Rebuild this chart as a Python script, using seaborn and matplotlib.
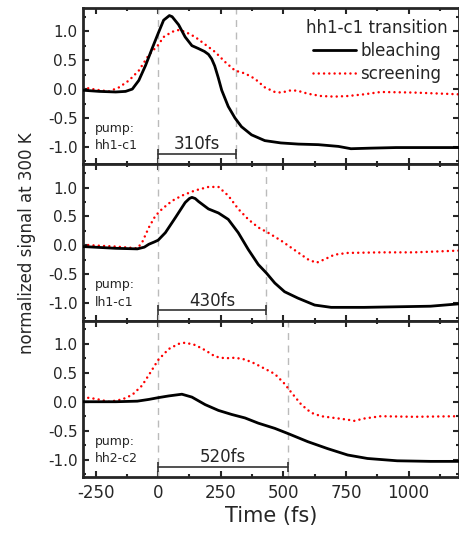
import numpy as np
import pandas as pd
import matplotlib
matplotlib.use("Agg")
import matplotlib.pyplot as plt
from matplotlib.ticker import MultipleLocator, FormatStrFormatter
import seaborn as sns

# ---------------- data ----------------
pumps = ["pump:\nhh1-c1", "pump:\nlh1-c1", "pump:\nhh2-c2"]
delays = [310, 430, 520]          # fs, rise-time marker for each panel
delay_labels = ["310fs", "430fs", "520fs"]

# panel 1 (pump hh1-c1)
t_b1 = [-300, -235, -169, -130, -103, -77, -50, -24, 0, 22, 45, 56, 82, 108, 135, 161, 185, 201, 214, 226, 240, 254, 280, 307, 333, 373, 426, 490, 560, 640, 720, 770, 850, 950, 1050, 1200]
v_b1 = [-0.02, -0.04, -0.05, -0.04, 0.0, 0.15, 0.41, 0.70, 0.96, 1.19, 1.27, 1.25, 1.11, 0.90, 0.75, 0.70, 0.65, 0.60, 0.52, 0.40, 0.20, -0.02, -0.30, -0.50, -0.65, -0.79, -0.89, -0.93, -0.95, -0.96, -0.99, -1.03, -1.02, -1.01, -1.01, -1.01]
t_s1 = [-300, -249, -196, -156, -116, -77, -37, 0, 22, 56, 82, 108, 148, 188, 228, 267, 307, 347, 386, 426, 466, 492, 532, 558, 598, 651, 704, 757, 823, 889, 1021, 1200]
v_s1 = [0.03, -0.01, -0.04, 0.03, 0.15, 0.32, 0.59, 0.76, 0.90, 0.99, 1.02, 0.99, 0.90, 0.77, 0.64, 0.47, 0.32, 0.27, 0.18, 0.03, -0.05, -0.06, -0.02, -0.03, -0.08, -0.12, -0.13, -0.12, -0.09, -0.05, -0.06, -0.09]

# panel 2 (pump lh1-c1)
t_b2 = [-300, -169, -83, -55, -37, -15, 0, 29, 69, 108, 125, 135, 148, 161, 201, 241, 280, 320, 360, 400, 433, 466, 505, 558, 625, 691, 823, 955, 1088, 1200]
v_b2 = [-0.02, -0.05, -0.06, -0.03, 0.02, 0.06, 0.09, 0.22, 0.48, 0.74, 0.81, 0.83, 0.81, 0.76, 0.63, 0.56, 0.45, 0.22, -0.07, -0.33, -0.48, -0.65, -0.80, -0.91, -1.03, -1.07, -1.07, -1.06, -1.05, -1.01]
t_s2 = [-300, -169, -83, -64, -37, -11, 16, 56, 95, 148, 201, 241, 280, 320, 360, 400, 439, 492, 545, 598, 632, 665, 704, 757, 889, 1021, 1200]
v_s2 = [0.01, -0.02, -0.05, 0.05, 0.31, 0.51, 0.63, 0.77, 0.86, 0.95, 1.01, 1.01, 0.86, 0.63, 0.45, 0.31, 0.22, 0.08, -0.08, -0.24, -0.30, -0.24, -0.16, -0.13, -0.12, -0.12, -0.09]

# panel 3 (pump hh2-c2)
t_b3 = [-300, -169, -83, -37, 0, 42, 95, 135, 188, 241, 294, 347, 400, 466, 519, 598, 677, 757, 836, 955, 1088, 1200]
v_b3 = [0.0, 0.0, 0.01, 0.04, 0.07, 0.10, 0.13, 0.08, -0.05, -0.15, -0.22, -0.28, -0.37, -0.46, -0.55, -0.69, -0.81, -0.92, -0.98, -1.02, -1.03, -1.03]
t_s3 = [-300, -249, -196, -143, -103, -64, -30, 0, 42, 82, 108, 148, 188, 228, 267, 307, 347, 386, 426, 466, 505, 532, 572, 611, 651, 704, 757, 783, 823, 889, 1021, 1200]
v_s3 = [0.08, 0.05, 0.0, 0.04, 0.12, 0.28, 0.51, 0.72, 0.91, 1.0, 1.02, 0.98, 0.89, 0.78, 0.75, 0.76, 0.73, 0.66, 0.57, 0.48, 0.31, 0.16, -0.05, -0.19, -0.25, -0.28, -0.31, -0.33, -0.29, -0.25, -0.26, -0.25]

bleach_t = [t_b1, t_b2, t_b3]
bleach_v = [v_b1, v_b2, v_b3]
screen_t = [t_s1, t_s2, t_s3]
screen_v = [v_s1, v_s2, v_s3]

x_ticks = [-250, 0, 250, 500, 750, 1000]
y_ticks = [-1.0, -0.5, 0.0, 0.5, 1.0]

# ---------------- style ----------------
sns.set_style("ticks")
plt.rcParams["font.family"] = ["DejaVu Sans"]
plt.rcParams["axes.unicode_minus"] = False
plt.rcParams["axes.linewidth"] = 2.0

fig, axes = plt.subplots(3, 1, figsize=(4.6, 5.35), dpi=100, sharex=True)
fig.subplots_adjust(left=0.1804, right=0.997, top=0.985, bottom=0.1084, hspace=0)

for i, ax in enumerate(axes):
    dfb = pd.DataFrame({"t": bleach_t[i], "v": bleach_v[i]})
    dfs = pd.DataFrame({"t": screen_t[i], "v": screen_v[i]})
    ax.axvline(0, color="#bbbbbb", lw=1.0, ls=(0, (5, 4)), zorder=1)
    ax.axvline(delays[i], color="#bbbbbb", lw=1.0, ls=(0, (5, 4)), zorder=1)
    sns.lineplot(data=dfb, x="t", y="v", ax=ax, color="black", lw=2.0,
                 estimator=None, sort=False, label="bleaching", zorder=3)
    sns.lineplot(data=dfs, x="t", y="v", ax=ax, color="#ff0000", lw=1.8,
                 linestyle=(0, (0.01, 2.1)), dash_capstyle="round",
                 estimator=None, sort=False, label="screening", zorder=2)
    ax.set_xlim(-300, 1200)
    ax.set_ylim(-1.3, 1.4)
    ax.set_xticks(x_ticks)
    ax.set_yticks(y_ticks)
    ax.xaxis.set_minor_locator(MultipleLocator(125))
    ax.yaxis.set_minor_locator(MultipleLocator(0.25))
    ax.yaxis.set_major_formatter(FormatStrFormatter("%.1f"))
    ax.tick_params(which="both", direction="in", top=True, right=True, width=1.5)
    ax.tick_params(which="major", length=4.5)
    ax.tick_params(which="minor", length=2.5)
    ax.tick_params(axis="y", labelsize=11, pad=4)
    ax.tick_params(axis="x", labelsize=12, pad=5)
    ax.set_xlabel("")
    ax.set_ylabel("")
    # pump annotation
    ax.text(-252, -0.83, pumps[i], fontsize=9, ha="left", va="center", linespacing=1.45)
    # rise time bar
    ax.plot([0, delays[i]], [-1.12, -1.12], color="#333333", lw=1.2,
            marker="|", ms=7, mew=1.2, zorder=4)
    ax.text(delays[i] / 2, -1.04, delay_labels[i], fontsize=12, ha="center", va="baseline")
    if i > 0:
        ax.get_legend().remove()

leg = axes[0].legend(title="hh1-c1 transition", loc="upper right", frameon=False,
                     fontsize=12, title_fontsize=12, handlelength=2.6,
                     handletextpad=0.25, labelspacing=0.3, borderaxespad=0.25,
                     borderpad=0.4)

fig.text(27.5 / 460, 1 - 243.5 / 535, "normalized signal at 300 K", fontsize=12,
         rotation=90, ha="center", va="center")
axes[2].set_xlabel("Time (fs)", fontsize=15, labelpad=3)

fig.savefig("out.png", dpi=100)
